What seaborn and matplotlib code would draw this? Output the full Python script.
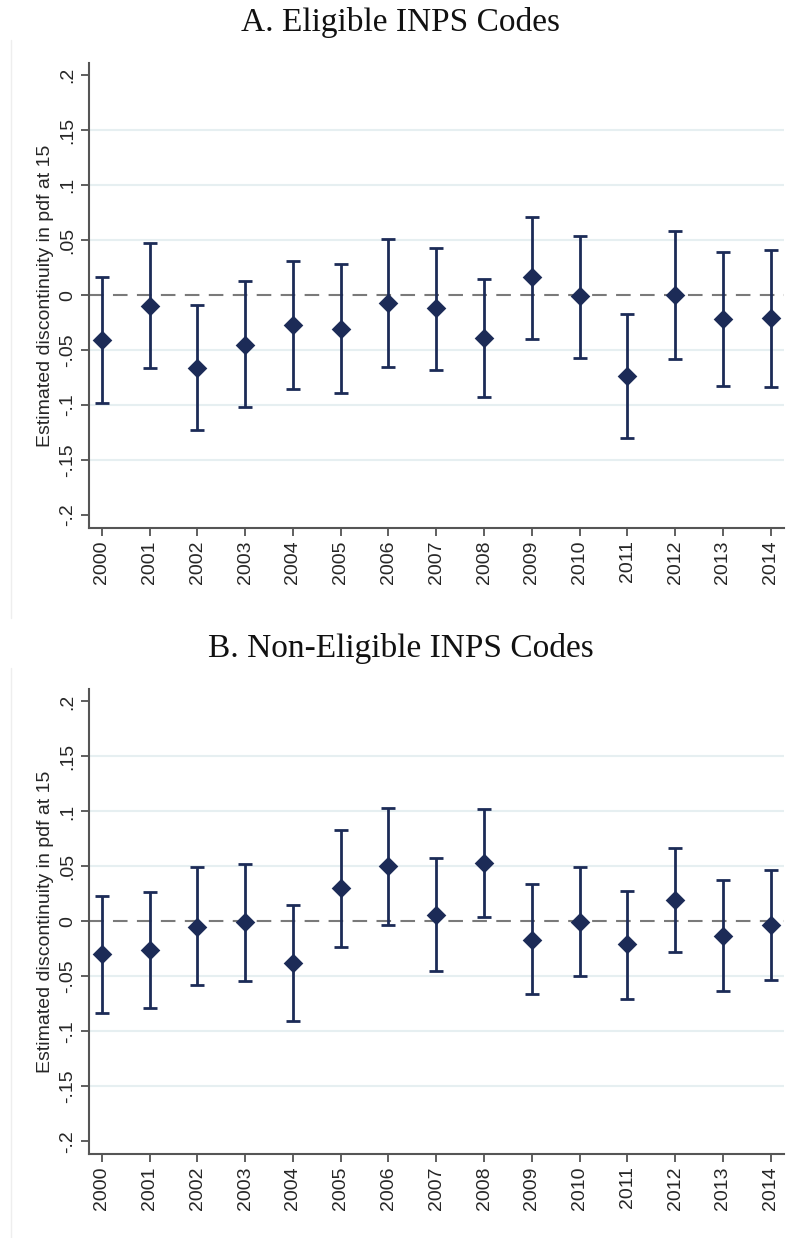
import numpy as np
import pandas as pd
import matplotlib
matplotlib.use("Agg")
import matplotlib.pyplot as plt
from matplotlib.lines import Line2D
import seaborn as sns

years = list(range(2000, 2015))

# Panel A: Eligible INPS codes
est_a = [-0.041, -0.010, -0.066, -0.045, -0.027, -0.031, -0.007, -0.012, -0.039, 0.016, -0.001, -0.074, 0.000, -0.022, -0.021]
hi_a = [0.016, 0.047, -0.009, 0.013, 0.031, 0.028, 0.051, 0.043, 0.015, 0.071, 0.054, -0.017, 0.058, 0.039, 0.041]
lo_a = [-0.098, -0.066, -0.123, -0.102, -0.085, -0.089, -0.065, -0.068, -0.093, -0.040, -0.057, -0.130, -0.058, -0.083, -0.084]

# Panel B: Non-eligible INPS codes
est_b = [-0.030, -0.026, -0.005, -0.001, -0.038, 0.030, 0.050, 0.006, 0.053, -0.017, -0.001, -0.021, 0.019, -0.013, -0.003]
hi_b = [0.023, 0.027, 0.049, 0.052, 0.015, 0.083, 0.103, 0.058, 0.102, 0.034, 0.049, 0.028, 0.067, 0.038, 0.047]
lo_b = [-0.083, -0.079, -0.058, -0.054, -0.091, -0.023, -0.003, -0.045, 0.004, -0.066, -0.050, -0.071, -0.028, -0.063, -0.053]

titles = ["A. Eligible INPS Codes", "B. Non-Eligible INPS Codes"]
ylabel = "Estimated discontinuity in pdf at 15"
yticks = [-0.2, -0.15, -0.1, -0.05, 0, 0.05, 0.1, 0.15, 0.2]
yticklabels = ["-.2", "-.15", "-.1", "-.05", "0", ".05", ".1", ".15", ".2"]
grid_levels = [-0.15, -0.1, -0.05, 0.05, 0.1, 0.15]

sns.set_theme(style="white")
plt.rcParams["font.family"] = ["Liberation Sans", "DejaVu Sans"]

navy = "#1c2b57"
W, H = 792, 1238
fig = plt.figure(figsize=(W / 100, H / 100), dpi=100)
fig.patch.set_facecolor("white")

def px(x0, y_top, x1, y_bot):
    return [x0 / W, 1 - y_bot / H, (x1 - x0) / W, (y_bot - y_top) / H]

axes_rects = [px(89, 63, 784, 527.7), px(89, 689.3, 784, 1154)]
title_y = [22, 648]
frames = [(40, 618), (668, 1238)]

datasets = [(est_a, lo_a, hi_a), (est_b, lo_b, hi_b)]

for i, (rect, (est, lo, hi)) in enumerate(zip(axes_rects, datasets)):
    ax = fig.add_axes(rect)
    df = pd.DataFrame({"year": years, "est": est, "lo": lo, "hi": hi})
    for g in grid_levels:
        ax.axhline(g, color="#e6eff1", lw=1.5, zorder=0)
    ax.axhline(0, color="#7a7a7a", lw=1.5, dashes=(7, 4.5), zorder=1)
    ax.errorbar(df["year"], df["est"],
                yerr=[df["est"] - df["lo"], df["hi"] - df["est"]],
                fmt="none", ecolor=navy, elinewidth=2.0, capsize=5, capthick=2.0, zorder=2)
    sns.scatterplot(data=df, x="year", y="est", marker="D", s=100, color=navy,
                    edgecolor=navy, linewidth=0, ax=ax, zorder=3, legend=False)
    ax.set_xlim(1999.73, 2014.28)
    ax.set_ylim(-0.2115, 0.211)
    ax.set_xticks(years)
    ax.set_xticklabels([str(y) for y in years], rotation=90, fontsize=14)
    ax.set_yticks(yticks)
    ax.set_yticklabels(yticklabels, rotation=90, va="center", fontsize=14)
    ax.set_xlabel("")
    ax.set_ylabel(ylabel, fontsize=14, labelpad=4)
    ax.tick_params(axis="both", which="both", direction="out", length=6, width=1.2,
                   color="#444444", pad=3, left=True, bottom=True)
    for s in ["top", "right"]:
        ax.spines[s].set_visible(False)
    for s in ["left", "bottom"]:
        ax.spines[s].set_color("#555555")
        ax.spines[s].set_linewidth(1.5)
    ax.set_facecolor("white")
    fig.text(0.5 * (10 + 792) / W, 1 - title_y[i] / H, titles[i], ha="center", va="center",
             fontsize=24, family=["Liberation Serif", "DejaVu Serif"], color="#111111")
    fig.add_artist(Line2D([10.5 / W, 10.5 / W], [1 - frames[i][0] / H, 1 - frames[i][1] / H],
                          color="#eeeeee", lw=1.0, transform=fig.transFigure))

fig.savefig("out.png", dpi=100, facecolor="white")
